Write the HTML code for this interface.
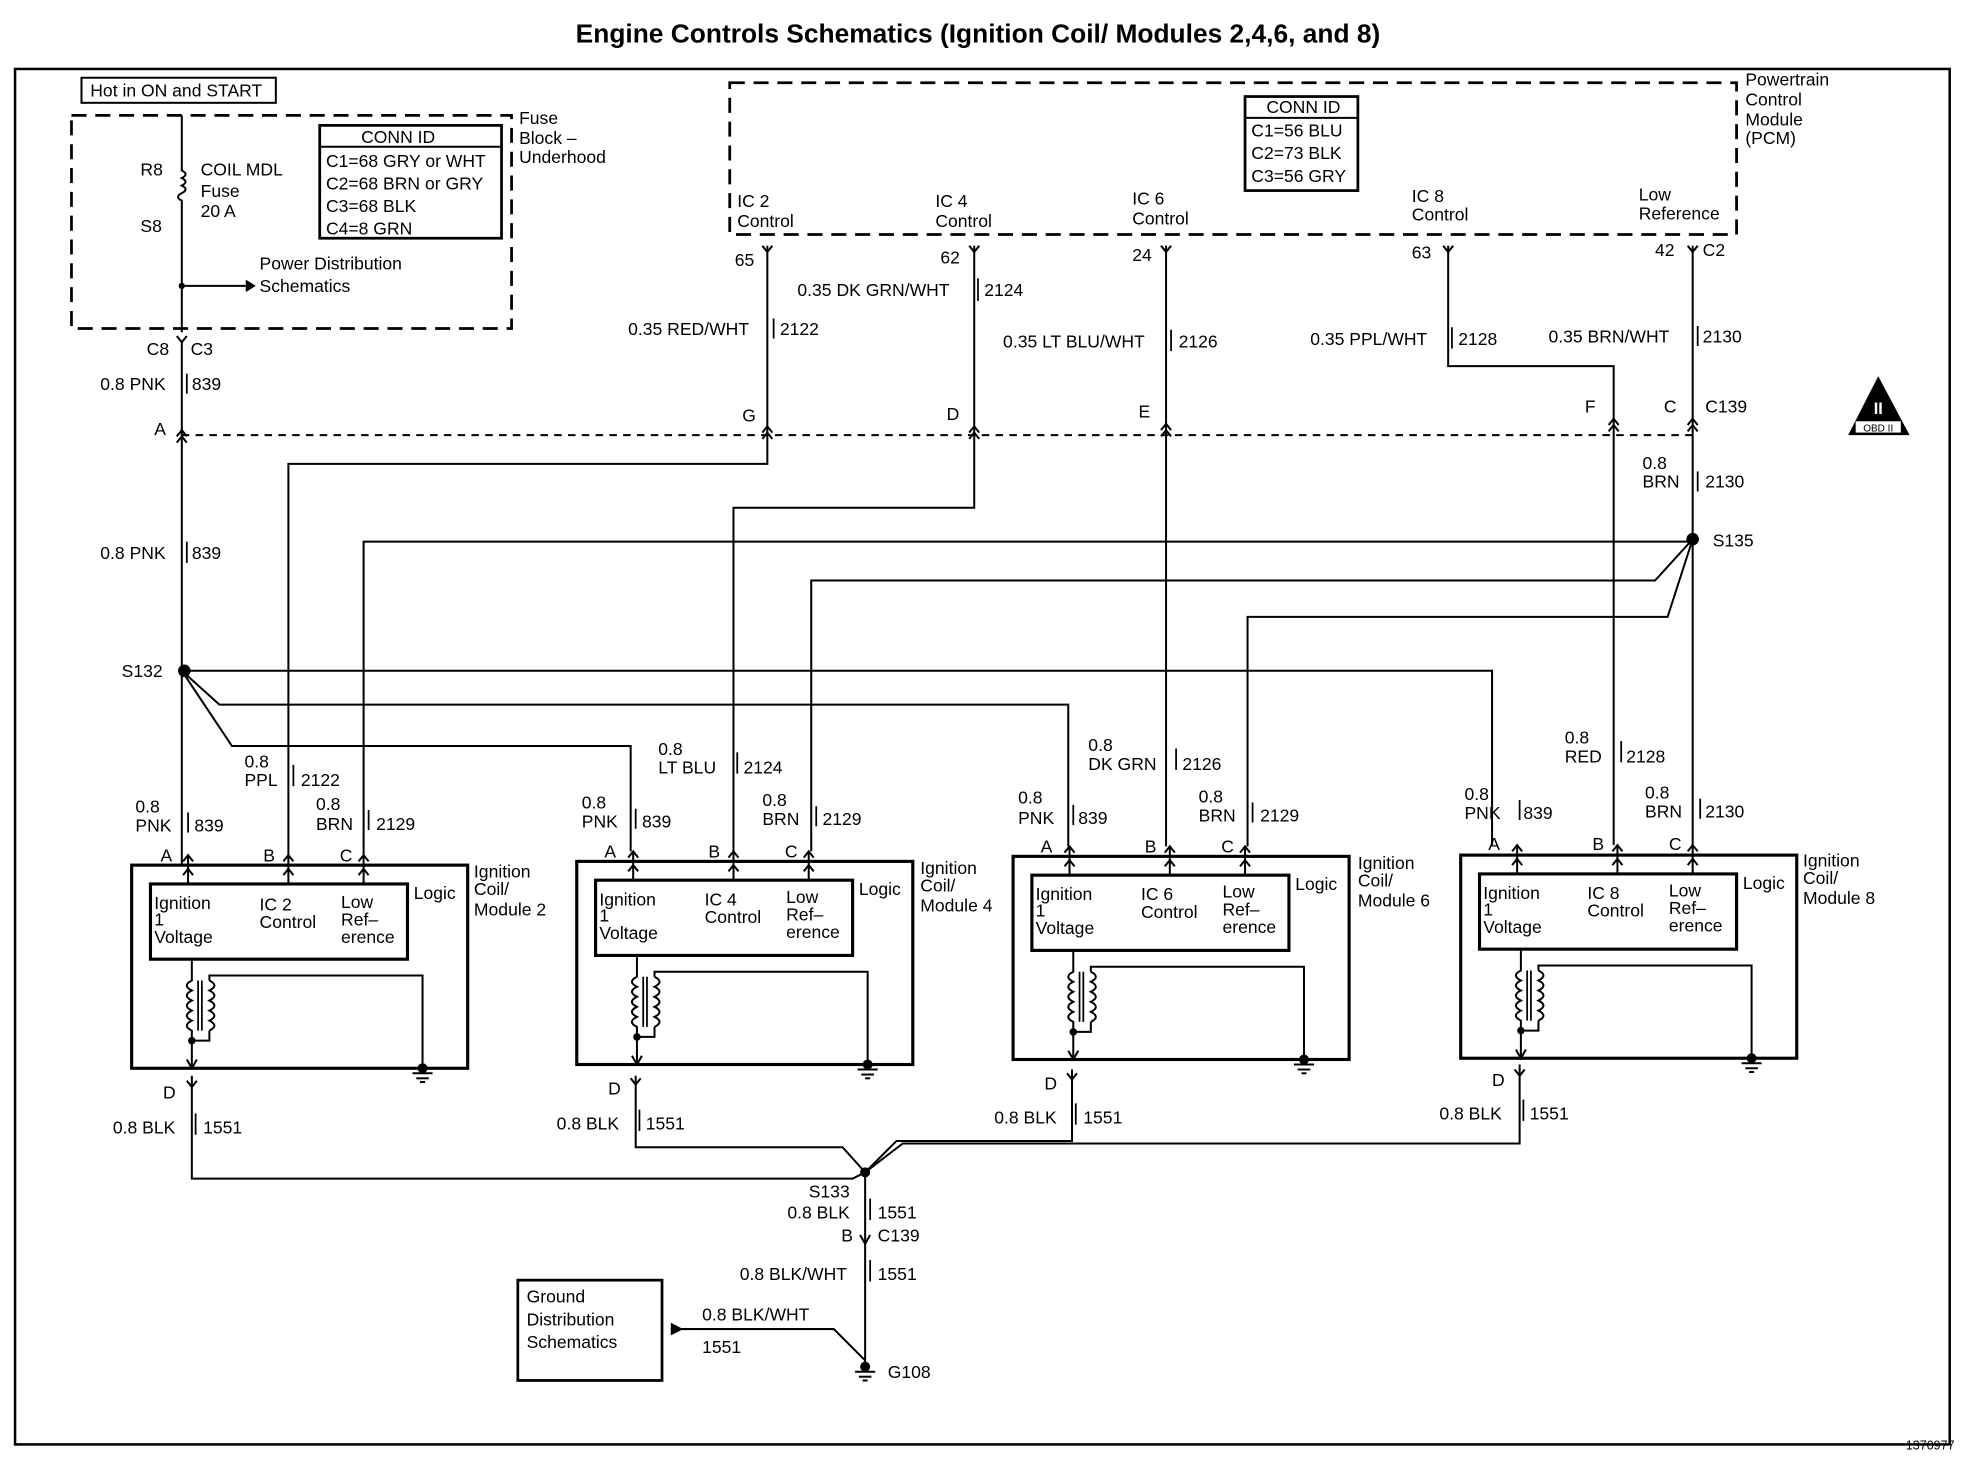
<!DOCTYPE html>
<html><head><meta charset="utf-8"><style>
html,body{margin:0;padding:0;background:#fff}
svg{display:block}
text{font-family:"Liberation Sans",sans-serif;font-size:14px;fill:#000}
</style></head><body>
<svg width="1966" height="1472" viewBox="0 0 1568 1174" preserveAspectRatio="none" xmlns="http://www.w3.org/2000/svg">
<defs>
<g id="pin"><polyline points="-4,5 0,0 4,5" fill="none" stroke="#000" stroke-width="1.6"/></g>
<g id="gnd"><circle cx="0" cy="0" r="4"/><line x1="-8" y1="4" x2="8" y2="4" stroke="#000" stroke-width="1.6"/><line x1="-5" y1="8" x2="5" y2="8" stroke="#000" stroke-width="1.6"/><line x1="-2" y1="11" x2="2" y2="11" stroke="#000" stroke-width="1.6"/></g>
<g id="mod">
<rect x="0" y="0" width="268" height="162" fill="none" stroke="#000" stroke-width="2.5"/>
<rect x="15" y="15" width="205" height="60" fill="none" stroke="#000" stroke-width="2.5"/>
<line x1="45" y1="-8" x2="45" y2="15" stroke="#000" stroke-width="1.6"/>
<line x1="125" y1="-8" x2="125" y2="15" stroke="#000" stroke-width="1.6"/>
<line x1="185" y1="-8" x2="185" y2="15" stroke="#000" stroke-width="1.6"/>
<use href="#pin" x="45" y="3"/><use href="#pin" x="125" y="3"/><use href="#pin" x="185" y="3"/>
<use href="#pin" x="45" y="-8"/><use href="#pin" x="125" y="-8"/><use href="#pin" x="185" y="-8"/>
<path d="M48 75 V92 q-8 4 0 8 q-8 4 0 8 q-8 4 0 8 q-8 4 0 8 q-8 4 0 8 V162" fill="none" stroke="#000" stroke-width="1.6"/>
<line x1="53" y1="92" x2="53" y2="132" stroke="#000" stroke-width="1.4"/><line x1="56" y1="92" x2="56" y2="132" stroke="#000" stroke-width="1.4"/>
<path d="M62 92 q8 4 0 8 q8 4 0 8 q8 4 0 8 q8 4 0 8 q8 4 0 8 M62 92 V88 H232 V162 M62 132 V140 H48" fill="none" stroke="#000" stroke-width="1.6"/>
<circle cx="48" cy="140" r="3"/>
<polyline points="44,155 48,162 52,155" fill="none" stroke="#000" stroke-width="1.6"/>
<use href="#gnd" x="232" y="162"/>
<text x="18" y="35">Ignition</text><text x="18" y="48">1</text><text x="18" y="62">Voltage</text>
<text x="225" y="27">Logic</text>
</g>
</defs>
<text x="780" y="34" text-anchor="middle" style="font-size:21px;font-weight:bold">Engine Controls Schematics (Ignition Coil/ Modules 2,4,6, and 8)</text>
<rect x="12" y="55" width="1543" height="1097" fill="none" stroke="#000" stroke-width="2"/>
<text x="1520" y="1156" style="font-size:10px">1370977</text>
<g fill="none" stroke="#000" stroke-width="1.6">
<rect x="57" y="92" width="351" height="170" stroke-dasharray="12,7" stroke-width="2.2"/>
<rect x="65" y="62" width="155" height="20" stroke-width="1.6"/>
<rect x="255" y="100" width="145" height="90" stroke-width="2.2"/>
<line x1="255" y1="117" x2="400" y2="117"/>
<path d="M145 92 V136 q6 3 0 6 q6 3 0 6 q6 3 0 6 q-6 3 0 6 V265"/>
<path d="M145 228 H196"/>
<rect x="582" y="66" width="803" height="121" stroke-dasharray="12,7" stroke-width="2.2"/>
<rect x="993" y="77" width="90" height="75" stroke-width="2.2"/>
<line x1="993" y1="94" x2="1083" y2="94"/>
<line x1="145" y1="347" x2="1350" y2="347" stroke-dasharray="6,5"/>
<path d="M145 272 V690"/>
<path d="M612 196 V370 H230 V682"/>
<path d="M777 196 V405 H585 V679"/>
<path d="M930 196 V675"/>
<path d="M1155 196 V292 H1287 V674"/>
<path d="M1350 196 V674"/>
<path d="M1350 430 L1348 432 H290 V682"/>
<path d="M1350 430 L1320 463 H647 V679"/>
<path d="M1350 430 L1330 492 H995 V675"/>
<path d="M145 535 L160 535 H1190 V674"/>
<path d="M145 535 L175 562 H852 V675"/>
<path d="M145 535 L185 595 H503 V679"/>
<path d="M153 858 V940 H680 L690 935"/>
<path d="M507 858 V915 H672 L690 935"/>
<path d="M855 853 V910 H715 L690 935"/>
<path d="M1212 849 V912 H720 L690 935"/>
<path d="M690 935 V1088"/>
<path d="M535 1060 H665 L690 1085"/>
<rect x="413" y="1021" width="115" height="80" stroke-width="2.2"/>
</g>
<polygon points="196,223 204,228 196,233"/>
<polygon points="535,1055 545,1060 535,1065"/>
<use href="#gnd" x="690" y="1090"/>
<circle cx="145" cy="228" r="2.5"/>
<circle cx="147" cy="535" r="5"/>
<circle cx="1350" cy="430" r="5"/>
<circle cx="690" cy="935" r="4"/>
<use href="#pin" x="145" y="343"/><use href="#pin" x="145" y="348"/>
<use href="#pin" x="612" y="340"/><use href="#pin" x="612" y="345"/>
<use href="#pin" x="777" y="340"/><use href="#pin" x="777" y="345"/>
<use href="#pin" x="930" y="338"/><use href="#pin" x="930" y="343"/>
<use href="#pin" x="1287" y="334"/><use href="#pin" x="1287" y="339"/>
<use href="#pin" x="1350" y="334"/><use href="#pin" x="1350" y="339"/>
<g fill="none" stroke="#000" stroke-width="1.6">
<polyline points="141,268 145,273 149,268"/><polyline points="608,196 612,201 616,196"/><polyline points="773,196 777,201 781,196"/><polyline points="926,196 930,201 934,196"/><polyline points="1151,196 1155,201 1159,196"/><polyline points="1346,196 1350,201 1354,196"/>
<polyline points="149,862 153,867 157,862"/><polyline points="503,860 507,865 511,860"/><polyline points="851,856 855,861 859,856"/><polyline points="1208,853 1212,858 1216,853"/>
<polyline points="686,985 690,992 694,985"/>
</g>
<use href="#mod" x="105" y="690"/>
<use href="#mod" x="460" y="687"/>
<use href="#mod" x="808" y="683"/>
<use href="#mod" x="1165" y="682"/>
<text x="207" y="726">IC 2</text><text x="207" y="740">Control</text><text x="272" y="724">Low</text><text x="272" y="738">Ref–</text><text x="272" y="752">erence</text>
<text x="562" y="722">IC 4</text><text x="562" y="736">Control</text><text x="627" y="720">Low</text><text x="627" y="734">Ref–</text><text x="627" y="748">erence</text>
<text x="910" y="718">IC 6</text><text x="910" y="732">Control</text><text x="975" y="716">Low</text><text x="975" y="730">Ref–</text><text x="975" y="744">erence</text>
<text x="1266" y="717">IC 8</text><text x="1266" y="731">Control</text><text x="1331" y="715">Low</text><text x="1331" y="729">Ref–</text><text x="1331" y="743">erence</text>
<text x="378" y="700">Ignition</text><text x="378" y="714">Coil/</text><text x="378" y="730">Module 2</text>
<text x="734" y="697">Ignition</text><text x="734" y="711">Coil/</text><text x="734" y="727">Module 4</text>
<text x="1083" y="693">Ignition</text><text x="1083" y="707">Coil/</text><text x="1083" y="723">Module 6</text>
<text x="1438" y="691">Ignition</text><text x="1438" y="705">Coil/</text><text x="1438" y="721">Module 8</text>
<text x="128" y="687">A</text><text x="210" y="687">B</text><text x="271" y="687">C</text>
<text x="482" y="684">A</text><text x="565" y="684">B</text><text x="626" y="684">C</text>
<text x="830" y="680">A</text><text x="913" y="680">B</text><text x="974" y="680">C</text>
<text x="1187" y="678">A</text><text x="1270" y="678">B</text><text x="1331" y="678">C</text>
<text x="130" y="876">D</text><text x="485" y="873">D</text><text x="833" y="869">D</text><text x="1190" y="866">D</text>
<text x="72" y="77">Hot in ON and START</text>
<text x="414" y="99">Fuse</text><text x="414" y="115">Block –</text><text x="414" y="130">Underhood</text>
<text x="288" y="114">CONN ID</text>
<text x="260" y="133">C1=68 GRY or WHT</text><text x="260" y="151">C2=68 BRN or GRY</text><text x="260" y="169">C3=68 BLK</text><text x="260" y="187">C4=8 GRN</text>
<text x="112" y="140">R8</text><text x="112" y="185">S8</text>
<text x="160" y="140">COIL MDL</text><text x="160" y="157">Fuse</text><text x="160" y="173">20 A</text>
<text x="207" y="215">Power Distribution</text><text x="207" y="233">Schematics</text>
<text x="117" y="283">C8</text><text x="152" y="283">C3</text>
<text x="80" y="311">0.8 PNK</text><text x="153" y="311">839</text>
<text x="123" y="347">A</text>
<text x="80" y="446">0.8 PNK</text><text x="153" y="446">839</text>
<text x="97" y="540">S132</text>
<text x="1392" y="68">Powertrain</text><text x="1392" y="84">Control</text><text x="1392" y="100">Module</text><text x="1392" y="115">(PCM)</text>
<text x="1010" y="90">CONN ID</text>
<text x="998" y="109">C1=56 BLU</text><text x="998" y="127">C2=73 BLK</text><text x="998" y="145">C3=56 GRY</text>
<text x="588" y="165">IC 2</text><text x="588" y="181">Control</text>
<text x="746" y="165">IC 4</text><text x="746" y="181">Control</text>
<text x="903" y="163">IC 6</text><text x="903" y="179">Control</text>
<text x="1126" y="161">IC 8</text><text x="1126" y="176">Control</text>
<text x="1307" y="160">Low</text><text x="1307" y="175">Reference</text>
<text x="586" y="212">65</text><text x="750" y="210">62</text><text x="903" y="208">24</text><text x="1126" y="206">63</text><text x="1320" y="204">42</text><text x="1358" y="204">C2</text>
<text x="636" y="236">0.35 DK GRN/WHT</text><text x="785" y="236">2124</text>
<text x="501" y="267">0.35 RED/WHT</text><text x="622" y="267">2122</text>
<text x="800" y="277">0.35 LT BLU/WHT</text><text x="940" y="277">2126</text>
<text x="1045" y="275">0.35 PPL/WHT</text><text x="1163" y="275">2128</text>
<text x="1235" y="273">0.35 BRN/WHT</text><text x="1358" y="273">2130</text>
<g stroke="#000" stroke-width="1.4">
<line x1="617" y1="254" x2="617" y2="270"/><line x1="780" y1="222" x2="780" y2="240"/><line x1="934" y1="263" x2="934" y2="280"/><line x1="1158" y1="261" x2="1158" y2="278"/><line x1="1354" y1="260" x2="1354" y2="276"/>
<line x1="149" y1="298" x2="149" y2="314"/><line x1="149" y1="432" x2="149" y2="449"/>
<line x1="1354" y1="376" x2="1354" y2="392"/>
<line x1="234" y1="610" x2="234" y2="627"/><line x1="150" y1="648" x2="150" y2="664"/><line x1="294" y1="646" x2="294" y2="662"/>
<line x1="588" y1="600" x2="588" y2="617"/><line x1="507" y1="645" x2="507" y2="661"/><line x1="651" y1="643" x2="651" y2="659"/>
<line x1="938" y1="597" x2="938" y2="614"/><line x1="856" y1="642" x2="856" y2="658"/><line x1="999" y1="640" x2="999" y2="656"/>
<line x1="1293" y1="591" x2="1293" y2="608"/><line x1="1212" y1="638" x2="1212" y2="654"/><line x1="1356" y1="637" x2="1356" y2="653"/>
<line x1="156" y1="888" x2="156" y2="905"/><line x1="510" y1="885" x2="510" y2="902"/><line x1="858" y1="880" x2="858" y2="897"/><line x1="1215" y1="877" x2="1215" y2="894"/>
<line x1="694" y1="956" x2="694" y2="973"/><line x1="694" y1="1005" x2="694" y2="1022"/>
</g>
<text x="592" y="336">G</text><text x="755" y="335">D</text><text x="908" y="333">E</text><text x="1264" y="329">F</text><text x="1327" y="329">C</text><text x="1360" y="329">C139</text>
<text x="1310" y="374">0.8</text><text x="1310" y="389">BRN</text><text x="1360" y="389">2130</text>
<text x="1366" y="436">S135</text>
<text x="195" y="612">0.8</text><text x="195" y="627">PPL</text><text x="240" y="627">2122</text>
<text x="108" y="648">0.8</text><text x="108" y="663">PNK</text><text x="155" y="663">839</text>
<text x="252" y="646">0.8</text><text x="252" y="662">BRN</text><text x="300" y="662">2129</text>
<text x="525" y="602">0.8</text><text x="525" y="617">LT BLU</text><text x="593" y="617">2124</text>
<text x="464" y="645">0.8</text><text x="464" y="660">PNK</text><text x="512" y="660">839</text>
<text x="608" y="643">0.8</text><text x="608" y="658">BRN</text><text x="656" y="658">2129</text>
<text x="868" y="599">0.8</text><text x="868" y="614">DK GRN</text><text x="943" y="614">2126</text>
<text x="812" y="641">0.8</text><text x="812" y="657">PNK</text><text x="860" y="657">839</text>
<text x="956" y="640">0.8</text><text x="956" y="655">BRN</text><text x="1005" y="655">2129</text>
<text x="1248" y="593">0.8</text><text x="1248" y="608">RED</text><text x="1297" y="608">2128</text>
<text x="1168" y="638">0.8</text><text x="1168" y="653">PNK</text><text x="1215" y="653">839</text>
<text x="1312" y="637">0.8</text><text x="1312" y="652">BRN</text><text x="1360" y="652">2130</text>
<text x="90" y="904">0.8 BLK</text><text x="162" y="904">1551</text>
<text x="444" y="901">0.8 BLK</text><text x="515" y="901">1551</text>
<text x="793" y="896">0.8 BLK</text><text x="864" y="896">1551</text>
<text x="1148" y="893">0.8 BLK</text><text x="1220" y="893">1551</text>
<text x="645" y="955">S133</text>
<text x="628" y="972">0.8 BLK</text><text x="700" y="972">1551</text>
<text x="671" y="990">B</text><text x="700" y="990">C139</text>
<text x="590" y="1021">0.8 BLK/WHT</text><text x="700" y="1021">1551</text>
<text x="420" y="1039">Ground</text><text x="420" y="1057">Distribution</text><text x="420" y="1075">Schematics</text>
<text x="560" y="1053">0.8 BLK/WHT</text><text x="560" y="1079">1551</text>
<text x="708" y="1099">G108</text>
<polygon points="1498,300 1474,347 1523,347" fill="#000"/>
<text x="1498" y="330" text-anchor="middle" style="fill:#fff;font-weight:bold;font-size:13px">II</text>
<rect x="1480" y="336" width="36" height="9" fill="#fff"/>
<text x="1498" y="344" text-anchor="middle" style="font-size:8px">OBD II</text>
</svg>
</body></html>
